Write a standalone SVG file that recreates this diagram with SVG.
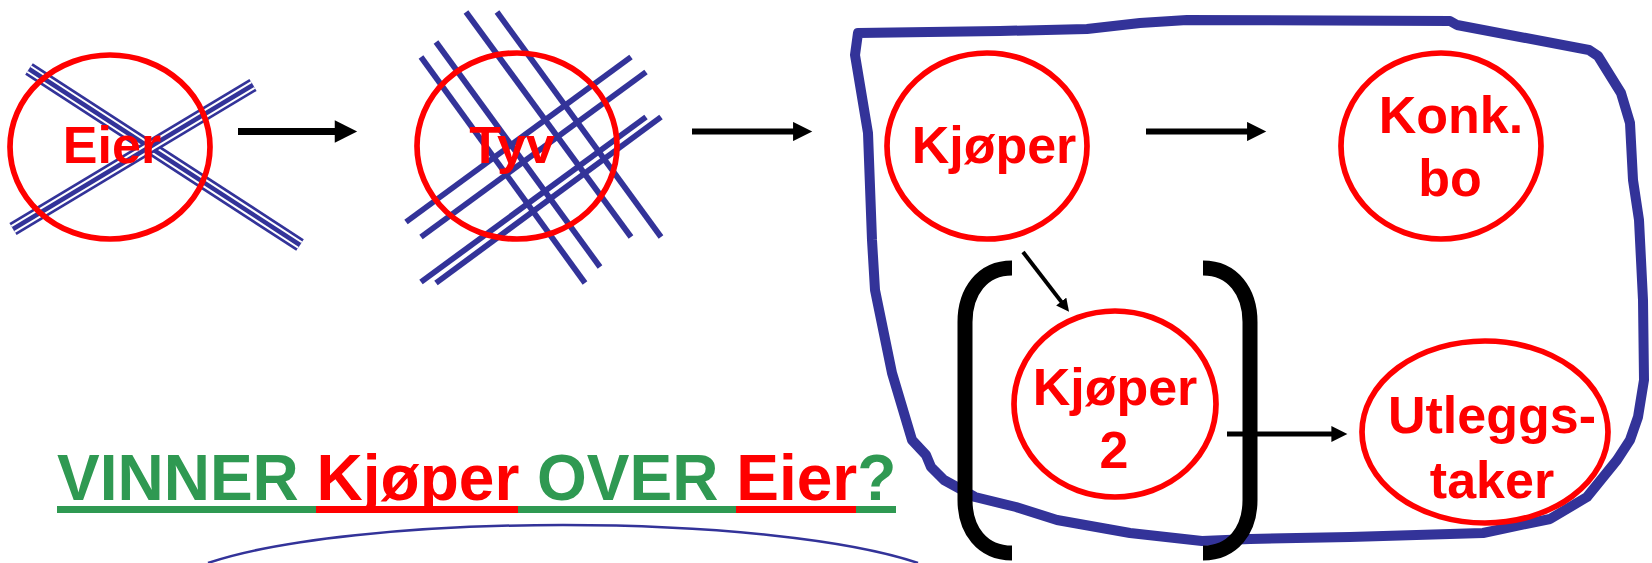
<svg xmlns="http://www.w3.org/2000/svg" width="1652" height="563" viewBox="0 0 1652 563">
<style>
.node{fill:none;stroke:#FF0000;stroke-width:5.7}
.lbl{font-family:"Liberation Sans",Arial,sans-serif;font-weight:bold;font-size:52px;fill:#FF0000;text-anchor:middle}
.x1{stroke:#333399;stroke-width:14;fill:none}
.x2{stroke:#FFFFFF;stroke-width:8.5;fill:none}
.x3{stroke:#333399;stroke-width:4.5;fill:none}
.cross{stroke:#333399;stroke-width:5.8;fill:none}
.conn{stroke:#000;fill:none;marker-end:url(#ah)}
.brk{stroke:#000;stroke-width:15;fill:none;stroke-linecap:butt}
.grn{fill:#2F9952}
.red{fill:#FF0000}
</style>
<defs>
<marker id="ah" viewBox="0 0 10 10" refX="1" refY="5" markerWidth="3.3" markerHeight="3.2" orient="auto" markerUnits="strokeWidth">
<path d="M0,0 L10,5 L0,10 z" fill="#000"/>
</marker>
<g id="triple1"><path d="M29,69 L300,245"/></g>
<g id="triple2"><path d="M13,229 L253,85"/></g>
</defs>

<!-- boundary -->
<g id="boundary">
<path d="M855,55 L858,33 L1000,31 L1087,29 L1140,23 L1187,20 L1450,21 L1457,25 L1589,50 L1598,56 L1621,93 L1630,123 L1633,180 L1639,220 L1643,300 L1644,380 L1638,417 L1630,440 L1617,460 L1587,497 L1550,519 L1483,533 L1350,537 L1250,539 L1202,541 L1130,533 L1057,520 L1016,507 L975,497 L944,480 L931,467 L926,455 L912,440 L892,373 L875,290 L872,240 L868,133 Z" fill="none" stroke="#333399" stroke-width="10" stroke-linejoin="round"/>
</g>

<!-- strike lines -->
<g id="strike-eier">
<use href="#triple1" class="x1"/><use href="#triple1" class="x2"/><use href="#triple1" class="x3"/>
<use href="#triple2" class="x1"/><use href="#triple2" class="x2"/><use href="#triple2" class="x3"/>
</g>
<g id="strike-tyv" class="cross">
<path d="M421,57 L585,283"/>
<path d="M436,42 L600,267"/>
<path d="M466,12 L631,237"/>
<path d="M497,12 L661,237"/>
<path d="M406,222 L631,57"/>
<path d="M421,237 L646,72"/>
<path d="M421,282 L646,117"/>
<path d="M436,283 L661,117"/>
</g>

<!-- nodes -->
<g id="eier">
<ellipse class="node" cx="110" cy="147" rx="100" ry="92"/>
<text class="lbl" x="112" y="163">Eier</text>
</g>
<g id="tyv">
<ellipse class="node" cx="517" cy="146" rx="100" ry="93"/>
<text class="lbl" x="512" y="163">Tyv</text>
</g>
<g id="kjoper">
<ellipse class="node" cx="987" cy="146" rx="100" ry="93"/>
<text class="lbl" x="994" y="163">Kjøper</text>
</g>
<g id="konkbo">
<ellipse class="node" cx="1441" cy="146" rx="100" ry="93"/>
<text class="lbl" x="1451" y="133">Konk.</text>
<text class="lbl" x="1450" y="196">bo</text>
</g>
<g id="kjoper2">
<ellipse class="node" cx="1115" cy="404" rx="101" ry="93"/>
<text class="lbl" x="1115" y="405">Kjøper</text>
<text class="lbl" x="1114" y="468">2</text>
</g>
<g id="utleggstaker">
<ellipse class="node" cx="1485" cy="432" rx="123" ry="91"/>
<text class="lbl" x="1492" y="433">Utleggs-</text>
<text class="lbl" x="1492" y="498">taker</text>
</g>

<!-- brackets -->
<g id="brackets">
<path class="brk" d="M1012,268 C982,268 965,292 965,322 L965,500 C965,530 982,553 1012,553"/>
<path class="brk" d="M1203,268 C1233,268 1250,292 1250,322 L1250,500 C1250,530 1233,553 1203,553"/>
</g>

<!-- connectors -->
<g id="connectors">
<path class="conn" stroke-width="7" d="M238,131.5 L337,131.5"/>
<path class="conn" stroke-width="6" d="M692,131.5 L795,131.5"/>
<path class="conn" stroke-width="6" d="M1146,131.5 L1249,131.5"/>
<path class="conn" stroke-width="4" d="M1023,252 L1062,302.6"/>
<path class="conn" stroke-width="5" d="M1227,434 L1333,434"/>
</g>

<!-- question -->
<g id="question">
<text x="57" y="500" font-family="'Liberation Sans',Arial,sans-serif" font-weight="bold" font-size="64"><tspan class="grn">VINNER </tspan><tspan class="red">Kjøper</tspan><tspan class="grn"> OVER </tspan><tspan class="red">Eier</tspan><tspan class="grn">?</tspan></text>
<rect class="grn" x="57" y="506" width="259" height="7"/>
<rect class="red" x="316" y="506" width="202" height="7"/>
<rect class="grn" x="518" y="506" width="218" height="7"/>
<rect class="red" x="736" y="506" width="120" height="7"/>
<rect class="grn" x="856" y="506" width="40" height="7"/>
</g>

<g id="arc">
<path d="M208,563 A400,70.5 0 0 1 918,563" fill="none" stroke="#333399" stroke-width="2.5"/>
</g>
</svg>
